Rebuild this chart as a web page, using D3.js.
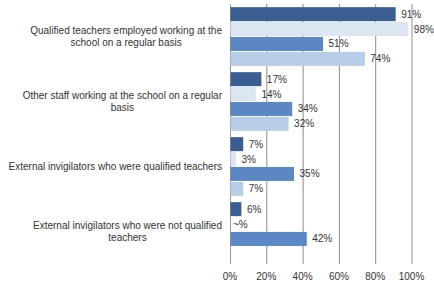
<!DOCTYPE html>
<html>
<head>
<meta charset="utf-8">
<script src="https://cdn.jsdelivr.net/npm/d3@7"></script>
<style>
  body { margin: 0; background: #fff; }
  text { font-family: "Liberation Sans", Arial, sans-serif; font-size: 10px; fill: #333; }
</style>
</head>
<body>
<svg id="chart" width="434" height="286"></svg>
<script>
// categories top to bottom
const categories = [
    "Qualified teachers employed working at the school on a regular basis",
    "Other staff working at the school on a regular basis",
    "External invigilators who were qualified teachers",
    "External invigilators who were not qualified teachers"
];
// four series, one bar each per category (null = no bar)
const series1 = [91, 17, 7, 6];
const series2 = [98, 14, 3, 0];
const series3 = [51, 34, 35, 42];
const series4 = [74, 32, 7, null];
// label text for each series (one shows "~%" in the original)
const labels2 = ["98%", "14%", "3%", "~%"];
const xTicks = [0, 20, 40, 60, 80, 100];

const allSeries = [series1, series2, series3, series4];
const colors = ["#3b5e92", "#dce6f2", "#5b87c5", "#b8cde7"];

const svg = d3.select("#chart");
const margin = {left: 230, right: 22, top: 4, bottom: 22};
const W = 434, H = 286;

const x = d3.scaleLinear().domain([0, 100]).range([margin.left, 411.5]);
const y = d3.scaleBand().domain(categories).range([margin.top, 264]).paddingInner(0.097).paddingOuter(0.0485);
const yInner = d3.scaleBand().domain([0, 1, 2, 3]).range([0, y.bandwidth()]).paddingInner(0.06);

// gridlines
svg.append("g")
    .selectAll("line")
    .data(xTicks)
    .join("line")
    .attr("x1", d => x(d) + 0.5)
    .attr("x2", d => x(d) + 0.5)
    .attr("y1", margin.top)
    .attr("y2", 264)
    .attr("stroke", d => d === 0 ? "#999" : "#8c8c8c")
    .attr("stroke-width", 1);

// bars
allSeries.forEach((vals, si) => {
    const g = svg.append("g");
    const data = categories.map((c, i) => ({c, v: vals[i], i}));
    g.selectAll("rect")
        .data(data.filter(d => d.v !== null && d.v > 0))
        .join("rect")
        .attr("x", x(0) + 0.5)
        .attr("y", d => y(d.c) + yInner(si))
        .attr("width", d => x(d.v) - x(0))
        .attr("height", yInner.bandwidth())
        .attr("fill", colors[si]);

    g.selectAll("text")
        .data(data.filter(d => d.v !== null))
        .join("text")
        .attr("x", d => x(d.v) + (d.v === 0 ? 3 : 6))
        .attr("y", d => y(d.c) + yInner(si) + yInner.bandwidth() / 2)
        .attr("dy", "0.35em")
        .text(d => si === 1 ? labels2[d.i] : d.v + "%");
});

// x axis tick labels
svg.append("g")
    .selectAll("text")
    .data(xTicks)
    .join("text")
    .attr("x", d => x(d))
    .attr("y", 280)
    .attr("text-anchor", "middle")
    .text(d => d + "%");

// category labels: wrapped, lines centred within a block that is right-aligned
const labelRight = 222, wrapWidth = 216, lineH = 11.7;
categories.forEach(c => {
    const t = svg.append("text").attr("text-anchor", "middle");
    const words = c.split(" ");
    const lines = [];
    let line = [];
    const probe = svg.append("text");
    words.forEach(w => {
        line.push(w);
        probe.text(line.join(" "));
        if (probe.node().getComputedTextLength() > wrapWidth && line.length > 1) {
            line.pop();
            lines.push(line.join(" "));
            line = [w];
        }
    });
    lines.push(line.join(" "));
    let maxW = 0;
    lines.forEach(l => {
        probe.text(l);
        maxW = Math.max(maxW, probe.node().getComputedTextLength());
    });
    probe.remove();
    const cx = labelRight - maxW / 2;
    const cy = y(c) + y.bandwidth() / 2 - (lines.length - 1) * lineH / 2;
    lines.forEach((l, k) => {
        t.append("tspan")
            .attr("x", cx)
            .attr("y", cy + k * lineH)
            .attr("dy", "0.35em")
            .text(l);
    });
});
</script>
</body>
</html>
